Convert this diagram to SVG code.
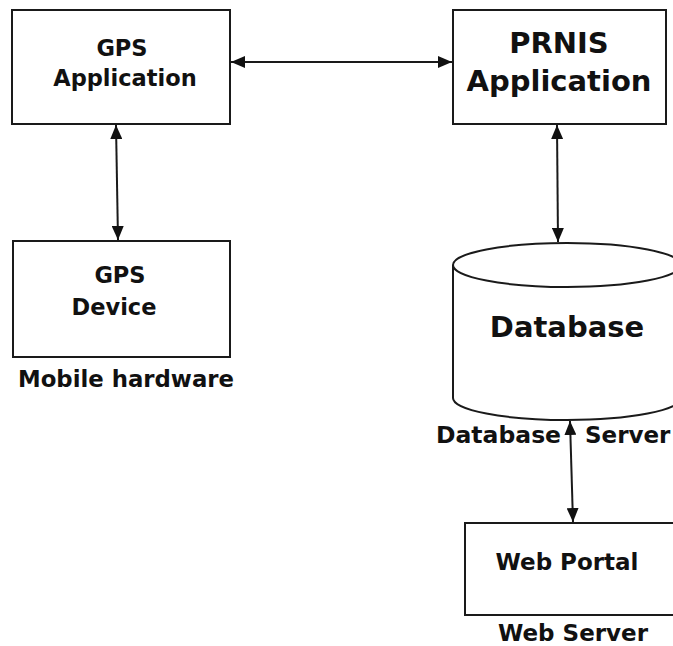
<svg xmlns="http://www.w3.org/2000/svg" width="673" height="646" viewBox="0 0 673 646">
  <style>
    .box { fill: #ffffff; stroke: #1a1a1a; stroke-width: 2; }
    .wire { fill: none; stroke: #1a1a1a; stroke-width: 2; }
    text { font-family: "DejaVu Sans", Verdana, sans-serif; font-weight: bold; fill: #111111; text-anchor: middle; }
    .left { text-anchor: start; }
  </style>
  <defs>
    <marker id="arrow" viewBox="0 0 14 12" refX="14" refY="6" markerWidth="14" markerHeight="12" markerUnits="userSpaceOnUse" orient="auto-start-reverse">
      <path d="M0,0 L14,6 L0,12 z" fill="#111111"/>
    </marker>
  </defs>

  <rect width="673" height="646" fill="#ffffff"/>

  <g id="gps-application">
    <rect class="box" x="12" y="10" width="218" height="114"/>
    <text x="122" y="56" font-size="22.5">GPS</text>
    <text x="125" y="86" font-size="22.5">Application</text>
  </g>

  <g id="prnis-application">
    <rect class="box" x="453" y="10" width="213" height="114"/>
    <text x="559" y="53" font-size="29">PRNIS</text>
    <text x="559" y="91" font-size="29">Application</text>
  </g>

  <g id="gps-device">
    <rect class="box" x="13" y="241" width="217" height="116"/>
    <text x="120" y="283" font-size="22.5">GPS</text>
    <text x="114" y="315" font-size="22.5">Device</text>
    <text x="126" y="387" font-size="22.8">Mobile hardware</text>
  </g>

  <g id="database">
    <path class="box" d="M453,265 L453,398 A114,22 0 0 0 681,398 L681,265 A114,22 0 0 0 453,265 Z"/>
    <path class="wire" d="M453,265 A114,22 0 0 0 681,265"/>
    <text x="567" y="337" font-size="29">Database</text>
    <text class="left" x="436" y="443" font-size="23.5">Database</text>
    <text class="left" x="585" y="443" font-size="23">Server</text>
  </g>

  <g id="web-portal">
    <rect class="box" x="465" y="523" width="220" height="92"/>
    <text x="567" y="570" font-size="23">Web Portal</text>
    <text x="573" y="641" font-size="23">Web Server</text>
  </g>

  <g id="connectors">
    <line class="wire" x1="231" y1="62" x2="452" y2="62" marker-start="url(#arrow)" marker-end="url(#arrow)"/>
    <line class="wire" x1="116" y1="125" x2="118" y2="240" marker-start="url(#arrow)" marker-end="url(#arrow)"/>
    <line class="wire" x1="557" y1="125" x2="558" y2="242" marker-start="url(#arrow)" marker-end="url(#arrow)"/>
    <line class="wire" x1="570" y1="421" x2="573" y2="522" marker-start="url(#arrow)" marker-end="url(#arrow)"/>
  </g>
</svg>
